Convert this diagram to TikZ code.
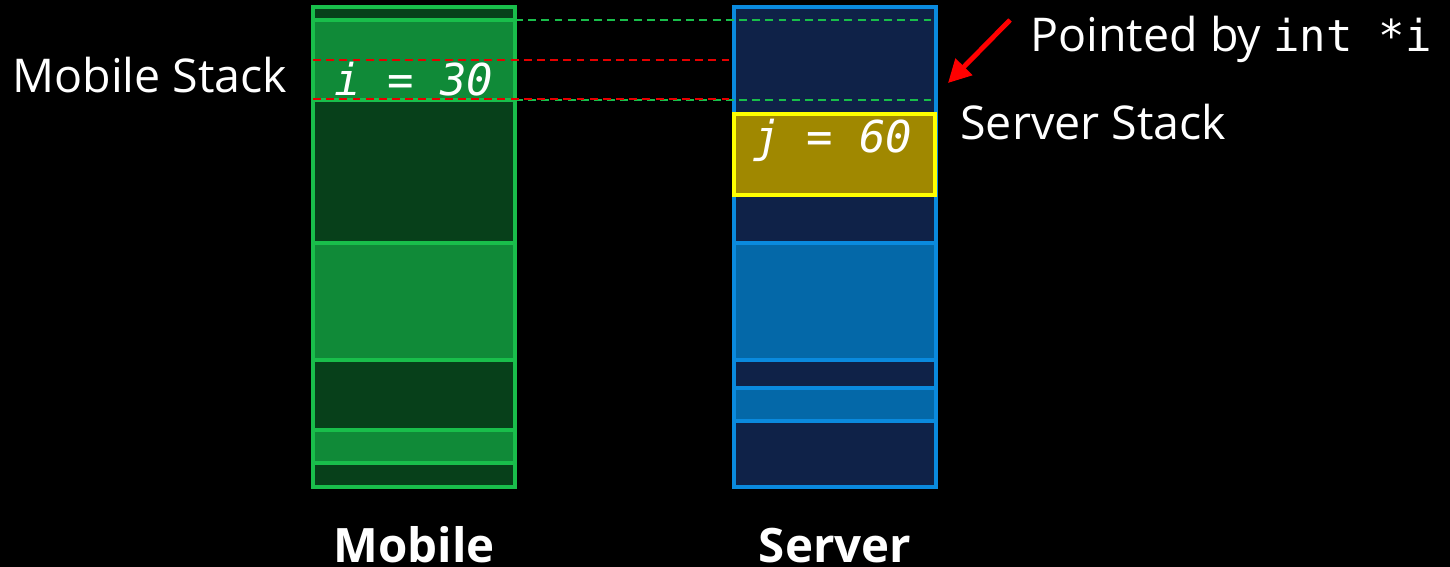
\documentclass[tikz,border=0pt]{standalone}
\usepackage{fontspec}
\setmainfont{Open Sans}
\newfontfamily\codefont{DejaVu Sans Mono}
\usepackage{xcolor}
\usepackage{tikz}
\usetikzlibrary{arrows.meta,positioning}

\definecolor{mobline}{RGB}{25,190,75}
\definecolor{mobdark}{RGB}{7,64,26}
\definecolor{mobmid}{RGB}{16,138,56}
\definecolor{srvline}{RGB}{10,138,222}
\definecolor{srvdark}{RGB}{15,34,72}
\definecolor{srvmid}{RGB}{4,104,168}
\definecolor{varfill}{RGB}{160,136,0}
\definecolor{varline}{RGB}{255,255,0}

\begin{document}
\begin{tikzpicture}[x=0.02cm, y=-0.02cm,
  mcell/.style={draw=mobline, line width=1.8pt},
  scell/.style={draw=srvline, line width=1.8pt},
  vcell/.style={draw=varline, fill=varfill, line width=1.8pt},
  txt/.style={text=white, inner sep=0pt, font=\fontsize{26.5}{32}\selectfont},
  code/.style={text=white, inner sep=0pt, font=\fontsize{25}{30}\selectfont\codefont\itshape},
  colname/.style={text=white, inner sep=0pt, font=\fontsize{27}{32}\selectfont\bfseries},
  guide/.style={dash pattern=on 4.5pt off 3pt, line width=1.1pt},
  arr/.style={-{Triangle[length=13pt, width=13pt]}, line width=2.8pt, red}
]
\useasboundingbox (0,0) rectangle (1450,567);
\fill[black] (0,0) rectangle (1450,567);

% Mobile stack cells
\draw[mcell, fill=mobdark] (313,7) rectangle (515,20);
\draw[mcell, fill=mobmid] (313,20) rectangle (515,100);
\draw[mcell, fill=mobdark] (313,100) rectangle (515,243);
\draw[mcell, fill=mobmid] (313,243) rectangle (515,360);
\draw[mcell, fill=mobdark] (313,360) rectangle (515,430);
\draw[mcell, fill=mobmid] (313,430) rectangle (515,463);
\draw[mcell, fill=mobdark] (313,463) rectangle (515,487);

% Server stack cells
\draw[scell, fill=srvdark] (734,7) rectangle (936,243);
\draw[scell, fill=srvmid] (734,243) rectangle (936,360);
\draw[scell, fill=srvdark] (734,360) rectangle (936,388);
\draw[scell, fill=srvmid] (734,388) rectangle (936,421);
\draw[scell, fill=srvdark] (734,421) rectangle (936,487);
\draw[vcell] (734,114) rectangle (935,195);

% Guide lines
\coordinate (gtopl) at (515,20);
\coordinate (gtopr) at (933,20);
\coordinate (gbotl) at (515,100);
\coordinate (gbotr) at (933,100);
\coordinate (rtopl) at (313,60);
\coordinate (rtopr) at (734,60);
\coordinate (rbotl) at (313,99);
\coordinate (rbotr) at (734,99);
\draw[guide, mobline] (gtopl) -- (gtopr);
\draw[guide, mobline] (gbotl) -- (gbotr);
\draw[guide, red!90!black] (rtopl) -- (rtopr);
\draw[guide, red!90!black] (rbotl) -- (rbotr);

% Values
\node[code, anchor=base] (ivar) at (414,96) {i = 30};
\node[code, anchor=base] (jvar) at (833,153) {j = 60};

% Labels
\node[txt, anchor=base west] (mstack) at (12,93) {Mobile Stack};
\node[txt, anchor=base west] (ptr) at (1030,52) {Pointed by {\fontsize{25}{30}\selectfont\codefont int *i}};
\node[txt, anchor=base west] (sstack) at (960,140) {Server Stack};
\node[colname, anchor=base] (mname) at (414,562) {Mobile};
\node[colname, anchor=base] (sname) at (835,562) {Server};

% Pointer arrow
\coordinate (ptail) at (1010,20);
\coordinate (phead) at (948,83);
\draw[arr] (ptail) -- (phead);

\end{tikzpicture}
\end{document}
